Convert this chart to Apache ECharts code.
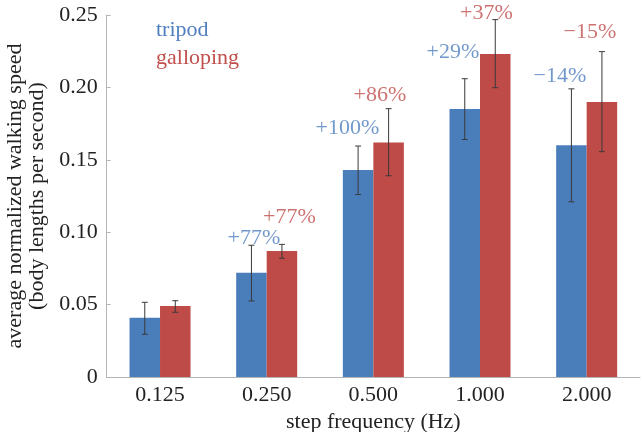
<!DOCTYPE html>
<html>
<head>
<meta charset="utf-8">
<script src="https://cdn.jsdelivr.net/npm/echarts@6/dist/echarts.min.js"></script>
<style>html,body{margin:0;padding:0;background:#fff}#c{width:644px;height:432px}</style>
</head>
<body>
<div id="c"></div>
<script>
// ---- data ----
var categories = ['0.125', '0.250', '0.500', '1.000', '2.000'];
var tripod = [0.041, 0.072, 0.143, 0.185, 0.160];
var tripodLow = [0.0295, 0.0525, 0.126, 0.164, 0.121];
var tripodHigh = [0.0516, 0.091, 0.1595, 0.206, 0.199];
var galloping = [0.049, 0.087, 0.162, 0.223, 0.190];
var gallopingLow = [0.0447, 0.082, 0.139, 0.1998, 0.1556];
var gallopingHigh = [0.0527, 0.0916, 0.1853, 0.2468, 0.2247];
// percentage annotations (category index where label sits, value where label sits, text)
var tripodNotes = ['+77%', '+100%', '+29%', '\u221214%'];
var tripodNoteX = [0.880, 1.757, 2.746, 3.749];
var tripodNoteY = [0.096, 0.172, 0.2245, 0.2075];
var gallopNotes = ['+77%', '+86%', '+37%', '\u221215%'];
var gallopNoteX = [1.213, 2.061, 3.060, 4.030];
var gallopNoteY = [0.1105, 0.1948, 0.2515, 0.2378];
var yTicks = ['0', '0.05', '0.10', '0.15', '0.20', '0.25'];

// ---- styling ----
var BLUE = '#4a7ebb', RED = '#be4b48';
var BLUE_T = '#4f7fbf', RED_T = '#c0504d';
var FONT = 'Liberation Serif';
var AXIS = '#b5b5b5';
var HALF = 0.143;

function errSeries(low, high, off) {
  return {
    type: 'custom', xAxisIndex: 0, yAxisIndex: 0, z: 10, clip: false,
    data: low.map(function (v, i) { return [i, v, high[i]]; }),
    renderItem: function (params, api) {
      var i = api.value(0);
      var top = api.coord([i, api.value(2)]);
      var bot = api.coord([i, api.value(1)]);
      var band = api.size([1, 0])[0];
      var x = top[0] + off * band;
      var st = { stroke: '#3a3a3a', lineWidth: 1 };
      return { type: 'group', children: [
        { type: 'line', shape: { x1: x, y1: top[1], x2: x, y2: bot[1] }, style: st },
        { type: 'line', shape: { x1: x - 3, y1: top[1], x2: x + 3, y2: top[1] }, style: st },
        { type: 'line', shape: { x1: x - 3, y1: bot[1], x2: x + 3, y2: bot[1] }, style: st }
      ]};
    }
  };
}
function noteSeries(xs, ys, texts, color) {
  return {
    type: 'scatter', xAxisIndex: 1, yAxisIndex: 0, symbolSize: 0, z: 20, silent: true, clip: false,
    data: xs.map(function (x, i) { return [x, ys[i], texts[i]]; }),
    label: { show: true, position: 'inside', formatter: function (p) { return p.value[2]; },
      color: color, fontFamily: FONT, fontSize: 22 }
  };
}

var chart = echarts.init(document.getElementById('c'), null, { renderer: 'canvas' });
chart.setOption({
  animation: false,
  textStyle: { fontFamily: FONT },
  grid: { left: 106.7, right: 4, top: 15, bottom: 55, containLabel: false, outerBoundsMode: 'none' },
  legend: {
    orient: 'vertical', left: 146, top: 14, icon: 'none', itemWidth: 0, itemHeight: 20, itemGap: 6,
    selectedMode: false,
    data: [
      { name: 'tripod', textStyle: { color: BLUE_T } },
      { name: 'galloping', textStyle: { color: RED_T } }
    ],
    textStyle: { fontFamily: FONT, fontSize: 22 }
  },
  xAxis: [{
    type: 'category', data: categories,
    axisLine: { lineStyle: { color: AXIS, width: 1 } },
    axisTick: { show: false },
    axisLabel: { color: '#222', fontFamily: FONT, fontSize: 22, margin: 7 },
    name: 'step frequency (Hz)', nameLocation: 'middle', nameGap: 34,
    nameTextStyle: { color: '#222', fontFamily: FONT, fontSize: 22 }
  }, {
    type: 'value', min: -0.5, max: 4.5, show: false
  }],
  yAxis: [{
    type: 'value', min: 0, max: 0.25, interval: 0.05,
    axisLine: { show: true, onZero: false, lineStyle: { color: AXIS, width: 1 } },
    axisTick: { show: true, inside: true, length: 4, lineStyle: { color: AXIS } },
    splitLine: { show: false },
    axisLabel: { color: '#222', fontFamily: FONT, fontSize: 22, margin: 9,
      formatter: function (v) { return yTicks[Math.round(v / 0.05)]; } },
    name: 'average normalized walking speed\n(body lengths per second)',
    nameLocation: 'middle', nameGap: 58,
    nameTextStyle: { color: '#222', fontFamily: FONT, fontSize: 22, lineHeight: 22 }
  }],
  series: [
    { name: 'tripod', type: 'bar', data: tripod, barWidth: '28.6%', barGap: '0%',
      itemStyle: { color: BLUE } },
    { name: 'galloping', type: 'bar', data: galloping, barWidth: '28.6%', barGap: '0%',
      itemStyle: { color: RED } },
    errSeries(tripodLow, tripodHigh, -HALF),
    errSeries(gallopingLow, gallopingHigh, HALF),
    noteSeries(tripodNoteX, tripodNoteY, tripodNotes, BLUE_T),
    noteSeries(gallopNoteX, gallopNoteY, gallopNotes, RED_T)
  ]
});
</script>
</body>
</html>
